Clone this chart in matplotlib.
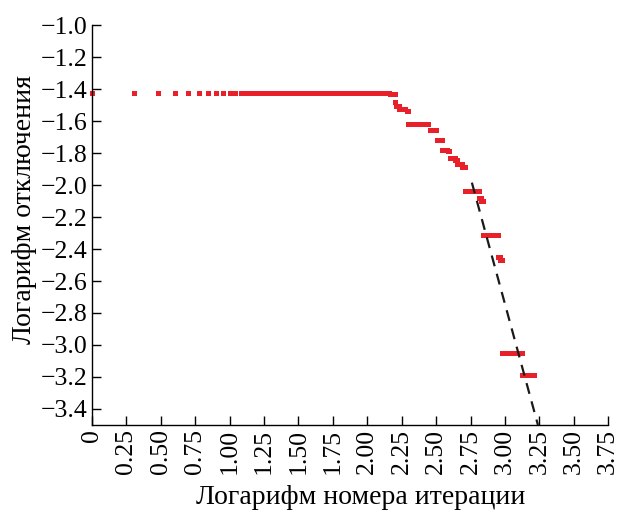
import numpy as np
import matplotlib
matplotlib.use("Agg")
import matplotlib.pyplot as plt

plt.rcParams['font.family'] = ['Liberation Serif', 'DejaVu Serif']

# deviation steps: (log10 deviation, first iteration, last iteration)
step_values = [-1.424, -1.432, -1.48, -1.505, -1.525, -1.54, -1.62, -1.655,
               -1.72, -1.78, -1.79, -1.83, -1.845, -1.87, -1.89, -2.035,
               -2.08, -2.10, -2.315, -2.45, -2.47, -3.05, -3.19]
step_first = [1, 145, 159, 161, 171, 194, 198, 285, 320, 351, 385, 396,
              436, 446, 486, 515, 651, 666, 691, 896, 916, 960, 1340]
step_last = [144, 158, 160, 170, 187, 197, 276, 316, 350, 380, 395, 435,
             445, 485, 510, 650, 665, 690, 895, 915, 950, 1330, 1620]

# fitted asymptote (log10 iteration, log10 deviation)
fit_x = [2.76, 3.24]
fit_y = [-1.985, -3.5]

x_ticks = [0, 0.25, 0.5, 0.75, 1.0, 1.25, 1.5, 1.75, 2.0, 2.25, 2.5, 2.75,
           3.0, 3.25, 3.5, 3.75]
x_labels = ['0', '0.25', '0.50', '0.75', '1.00', '1.25', '1.50', '1.75',
            '2.00', '2.25', '2.50', '2.75', '3.00', '3.25', '3.50', '3.75']
y_ticks = [-3.4, -3.2, -3.0, -2.8, -2.6, -2.4, -2.2, -2.0, -1.8, -1.6,
           -1.4, -1.2, -1.0]

fig = plt.figure(figsize=(6.18, 5.12), dpi=100)
ax = fig.add_axes([0.149, 0.170, 0.835, 0.781])

for v, a, b in zip(step_values, step_first, step_last):
    n = np.arange(a, b + 1)
    ax.plot(np.log10(n), np.full(len(n), v), linestyle='none', marker='s',
            markersize=3.6, color='#e8202a', markeredgewidth=0, clip_on=False)

ax.plot(fit_x, fit_y, color='#1a1a1a', linewidth=1.6, dashes=(5, 3.5))

ax.set_xlim(0, 3.75)
ax.set_ylim(-3.5, -1.0)
ax.set_xticks(x_ticks)
ax.set_xticklabels(x_labels, rotation=90)
ax.set_yticks(y_ticks)
ax.set_yticklabels(['\u2212%.1f' % abs(t) for t in y_ticks])

for s in ['top', 'right']:
    ax.spines[s].set_visible(False)
for s in ['left', 'bottom']:
    ax.spines[s].set_linewidth(1.0)
ax.tick_params(direction='in', length=6.5, width=1.0, labelsize=18.5, pad=3)

ax.set_xlabel('Логарифм номера итерации', fontsize=20)
ax.set_ylabel('Логарифм отключения', fontsize=20)
ax.xaxis.set_label_coords(0.521, -0.150)
ax.yaxis.set_label_coords(-0.107, 0.54)

fig.savefig('out.png', dpi=100)
